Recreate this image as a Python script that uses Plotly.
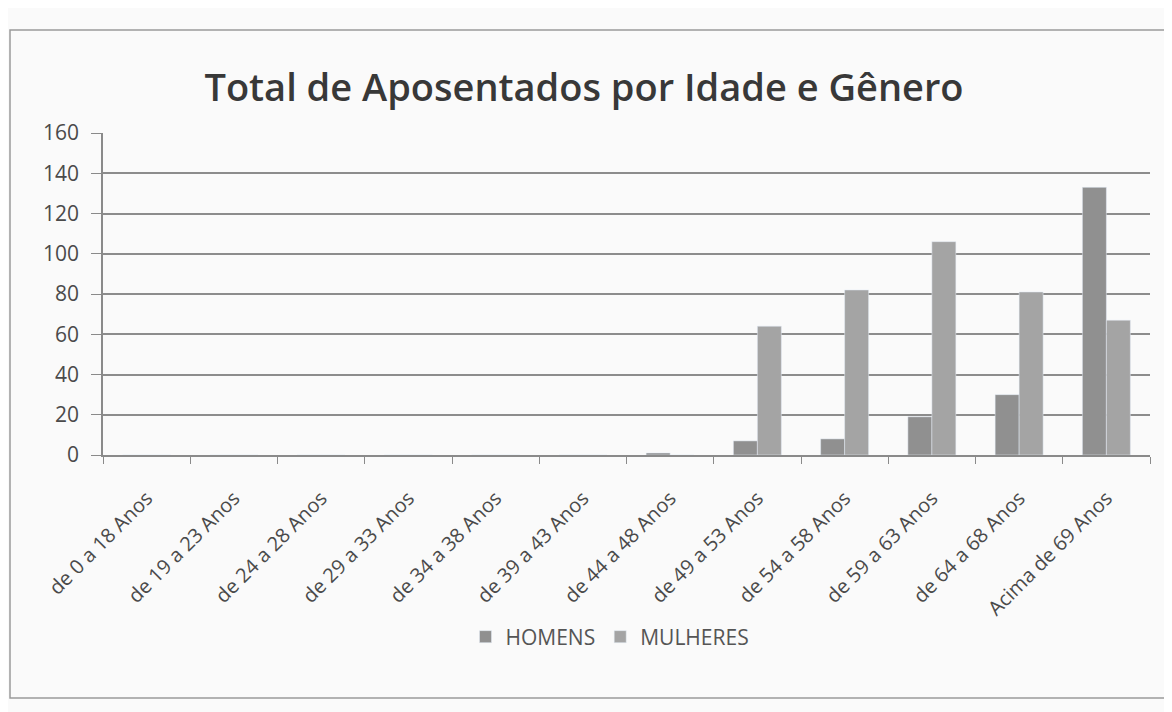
import plotly.graph_objects as go

categorias = ["de 0 a 18 Anos", "de 19 a 23 Anos", "de 24 a 28 Anos", "de 29 a 33 Anos",
              "de 34 a 38 Anos", "de 39 a 43 Anos", "de 44 a 48 Anos", "de 49 a 53 Anos",
              "de 54 a 58 Anos", "de 59 a 63 Anos", "de 64 a 68 Anos", "Acima de 69 Anos"]
homens = [0, 0, 0, 0, 0, 0, 1, 7, 8, 19, 30, 133]
mulheres = [0, 0, 0, 0, 0, 0, 0, 64, 82, 106, 81, 67]
titulo = "Total de Aposentados por Idade e Gênero"

fig = go.Figure()
fig.add_trace(go.Bar(name="HOMENS", x=categorias, y=homens, marker_color="#909090"))
fig.add_trace(go.Bar(name="MULHERES", x=categorias, y=mulheres, marker_color="#a4a4a4"))

# page has an 8px body margin, so the figure is 8px smaller and shifted
W, H = 1164, 704
L, R, T, B = 95, 22, 125, 257
pw, ph = W - L - R, H - T - B

fig.update_layout(
    width=W, height=H,
    barmode="group", bargap=0.45, bargroupgap=0,
    paper_bgcolor="#fafafa", plot_bgcolor="#fafafa",
    margin=dict(l=L, r=R, t=T, b=B),
    font=dict(family="Open Sans", color="#4a4a4a", size=17),
    title=dict(text=titulo, x=(576 - L) / pw, xanchor="center", xref="paper",
               y=1 - 80 / H, yanchor="middle",
               font=dict(family="Open Sans", size=38, color="#383838", weight=600)),
    showlegend=True,
    legend=dict(orientation="h", x=(602 - L) / pw, xanchor="center", y=-(629 - (H - B)) / ph,
                yanchor="middle", font=dict(size=21, color="#555555"),
                bgcolor="rgba(0,0,0,0)"),
    xaxis=dict(tickangle=-45, showgrid=False, showline=True, linecolor="#8a8a8a",
               linewidth=1.5, ticks="outside", tickson="boundaries", ticklen=7,
               ticklabelstandoff=22,
               tickcolor="#8a8a8a", tickfont=dict(size=20, color="#4a4a4a")),
    yaxis=dict(range=[0, 160], dtick=20, showgrid=True, gridcolor="#8c8c8c", gridwidth=1.5,
               showline=True, linecolor="#8a8a8a", linewidth=1.5, ticks="outside",
               ticklen=10, tickcolor="#8a8a8a", zeroline=False, ticklabelstandoff=8,
               tickfont=dict(size=21, color="#4a4a4a")),
)

fig.add_shape(type="rect", xref="paper", yref="paper",
              x0=(2 - L) / pw, x1=(1160 - L) / pw,
              y0=((H - B) - 690) / ph, y1=((H - B) - 22) / ph,
              line=dict(color="#9a9a9a", width=1.5), fillcolor="rgba(0,0,0,0)", layer="below")

fig.write_html("out.html")
